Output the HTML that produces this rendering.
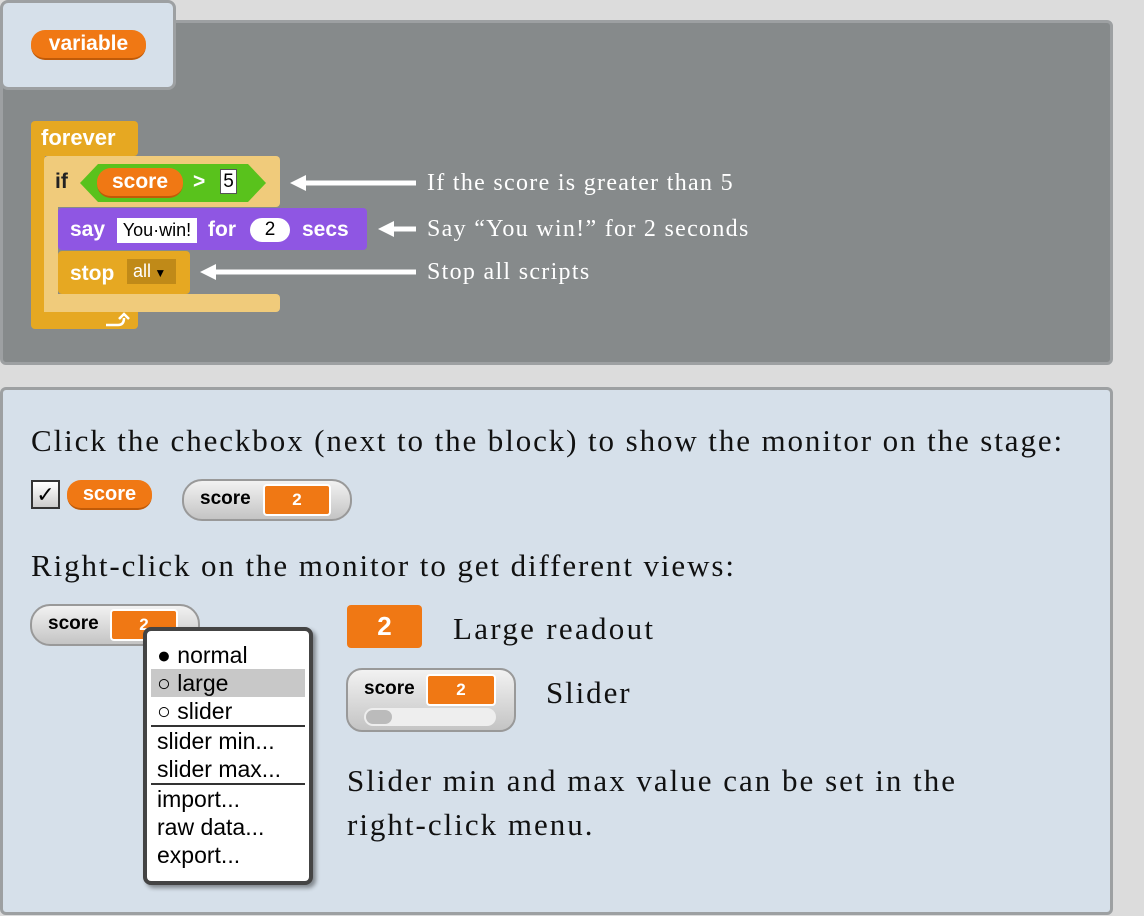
<!DOCTYPE html>
<html><head><meta charset="utf-8"><style>
*{margin:0;padding:0;box-sizing:border-box}
body{width:1144px;height:916px;background:#dcdcdc;position:relative;overflow:hidden;font-family:"Liberation Sans",sans-serif}
.a{position:absolute}
.serif{font-family:"Liberation Serif",serif;white-space:nowrap}
.pill{position:absolute;background:#f07814;border-radius:14px;color:#fff;font-weight:bold;text-align:center;border-bottom:2px solid #c05a08}
.mon{position:absolute;background:linear-gradient(#f2f2f2,#c4c4c4);border:2px solid #999;border-radius:20px}
.val{position:absolute;background:#f07814;border:2px solid #fff;border-radius:4px;color:#fff;font-weight:bold;text-align:center}
.wt{color:#fff;font-weight:bold;font-size:21px}
.menu div{height:28px;line-height:28px;font-size:23px;padding-left:10px;color:#000}
.bt{font-size:31px;color:#111;letter-spacing:1.9px}
.tt{color:#fff;font-size:24px;letter-spacing:1.3px}
</style></head><body>
<div class="a" style="left:0;top:20px;width:1113px;height:345px;background:#868a8b;border:3px solid #9da0a2;border-radius:6px"></div>
<div class="a" style="left:0;top:0;width:176px;height:90px;background:#d6e0ea;border:3px solid #9da0a2;border-radius:8px"></div>
<div class="pill" style="left:31px;top:30px;width:115px;height:30px;line-height:28px;font-size:21px">variable</div>

<div class="a" style="left:31px;top:121px;width:107px;height:35px;background:#e6a822;border-radius:4px"></div>
<div class="a wt" style="left:41px;top:125px;font-size:22px">forever</div>
<div class="a" style="left:31px;top:150px;width:14px;height:178px;background:#e6a822;border-radius:0 0 0 4px"></div>
<div class="a" style="left:31px;top:310px;width:107px;height:19px;background:#e6a822;border-radius:0 0 4px 4px"></div>
<svg class="a" style="left:104px;top:312px" width="30" height="16"><path d="M2,13 H14 Q20,13 20,6 M15,7 L20,2 L25,7" stroke="#fff" stroke-width="2.5" fill="none"/></svg>
<div class="a" style="left:44px;top:156px;width:236px;height:51px;background:#f0cb7b;border-radius:4px"></div>
<div class="a" style="left:44px;top:200px;width:14px;height:111px;background:#f0cb7b"></div>
<div class="a" style="left:44px;top:294px;width:236px;height:18px;background:#f0cb7b;border-radius:0 4px 4px 0"></div>
<div class="a" style="left:55px;top:170px;font-weight:bold;font-size:21px;color:#222">if</div>
<svg class="a" style="left:80px;top:164px" width="186" height="38"><polygon points="0,19 18,0 168,0 186,19 168,38 18,38" fill="#59c21c"/></svg>
<div class="pill" style="left:97px;top:168px;width:86px;height:30px;line-height:28px;font-size:21px">score</div>
<div class="a wt" style="left:193px;top:170px;font-size:21px">&gt;</div>
<div class="a" style="left:220px;top:169px;width:17px;height:25px;background:#fff;border:1px solid #555;font-size:19px;text-align:center;line-height:23px">5</div>
<div class="a" style="left:58px;top:208px;width:309px;height:42px;background:#8f56e3;border-radius:4px"></div>
<div class="a wt" style="left:70px;top:218px">say</div>
<div class="a" style="left:117px;top:218px;width:80px;height:25px;background:#fff;font-size:18px;line-height:25px;text-align:center">You·win!</div>
<div class="a wt" style="left:208px;top:218px">for</div>
<div class="a" style="left:250px;top:218px;width:40px;height:24px;background:#fff;border-radius:12px;font-size:19px;line-height:24px;text-align:center">2</div>
<div class="a wt" style="left:302px;top:218px">secs</div>
<div class="a" style="left:58px;top:251px;width:132px;height:43px;background:#e6a822;border-radius:4px"></div>
<div class="a wt" style="left:70px;top:262px">stop</div>
<div class="a" style="left:127px;top:259px;width:49px;height:25px;background:#c08a18;color:#fff;font-size:18px;line-height:25px;padding-left:6px">all<span style="color:#000;font-size:12px"> ▼</span></div>
<svg class="a" style="left:0;top:0" width="430" height="300">
<g stroke="#fff" stroke-width="5"><line x1="300" y1="183" x2="416" y2="183"/><line x1="390" y1="229" x2="416" y2="229"/><line x1="212" y1="272" x2="416" y2="272"/></g>
<g fill="#fff"><polygon points="290,183 306,175 306,191"/><polygon points="378,229 394,221 394,237"/><polygon points="200,272 216,264 216,280"/></g>
</svg>
<div class="a serif tt" style="left:427px;top:170px">If the score is greater than 5</div>
<div class="a serif tt" style="left:427px;top:216px">Say “You win!” for 2 seconds</div>
<div class="a serif tt" style="left:427px;top:259px">Stop all scripts</div>

<div class="a" style="left:0;top:387px;width:1113px;height:528px;background:#d6e0ea;border:3px solid #9da0a2;border-radius:6px"></div>
<div class="a serif bt" style="left:31px;top:423px">Click the checkbox (next to the block) to show the monitor on the stage:</div>
<div class="a" style="left:31px;top:480px;width:29px;height:29px;border:2px solid #333;background:linear-gradient(#fff,#ccc);font-size:22px;line-height:25px;text-align:center">✓</div>
<div class="pill" style="left:67px;top:480px;width:85px;height:30px;line-height:28px;font-size:20px">score</div>
<div class="mon" style="left:182px;top:479px;width:170px;height:42px"></div>
<div class="a" style="left:200px;top:488px;font-weight:bold;font-size:19px">score</div>
<div class="val" style="left:263px;top:484px;width:68px;height:32px;line-height:28px;font-size:17px">2</div>

<div class="a serif bt" style="left:31px;top:548px">Right-click on the monitor to get different views:</div>
<div class="mon" style="left:30px;top:604px;width:170px;height:42px"></div>
<div class="a" style="left:48px;top:613px;font-weight:bold;font-size:19px">score</div>
<div class="val" style="left:110px;top:609px;width:68px;height:32px;line-height:28px;font-size:17px">2</div>
<div class="a menu" style="left:143px;top:627px;width:170px;height:258px;background:#fff;border:4px solid #444;border-radius:8px;box-shadow:3px 3px 4px rgba(0,0,0,.4);padding-top:10px">
<div>● normal</div><div style="background:#c8c8c8;margin:0 4px;padding-left:6px">○ large</div><div>○ slider</div>
<div style="height:2px;background:#333;margin:0 4px"></div>
<div>slider min...</div><div>slider max...</div>
<div style="height:2px;background:#333;margin:0 4px"></div>
<div>import...</div><div>raw data...</div><div>export...</div>
</div>
<div class="val" style="left:347px;top:605px;width:75px;height:43px;border:none;line-height:43px;font-size:26px">2</div>
<div class="a serif bt" style="left:453px;top:611px;letter-spacing:2.3px">Large readout</div>
<div class="mon" style="left:346px;top:668px;width:170px;height:64px;border-radius:16px"></div>
<div class="a" style="left:364px;top:678px;font-weight:bold;font-size:19px">score</div>
<div class="val" style="left:426px;top:674px;width:70px;height:32px;line-height:28px;font-size:17px">2</div>
<div class="a" style="left:364px;top:708px;width:132px;height:18px;background:#eee;border-radius:9px"></div>
<div class="a" style="left:366px;top:710px;width:26px;height:14px;background:#bbb;border-radius:7px"></div>
<div class="a serif bt" style="left:546px;top:675px">Slider</div>
<div class="a serif bt" style="left:347px;top:759px;line-height:44px;letter-spacing:2px">Slider min and max value can be set in the<br>right-click menu.</div>
</body></html>
